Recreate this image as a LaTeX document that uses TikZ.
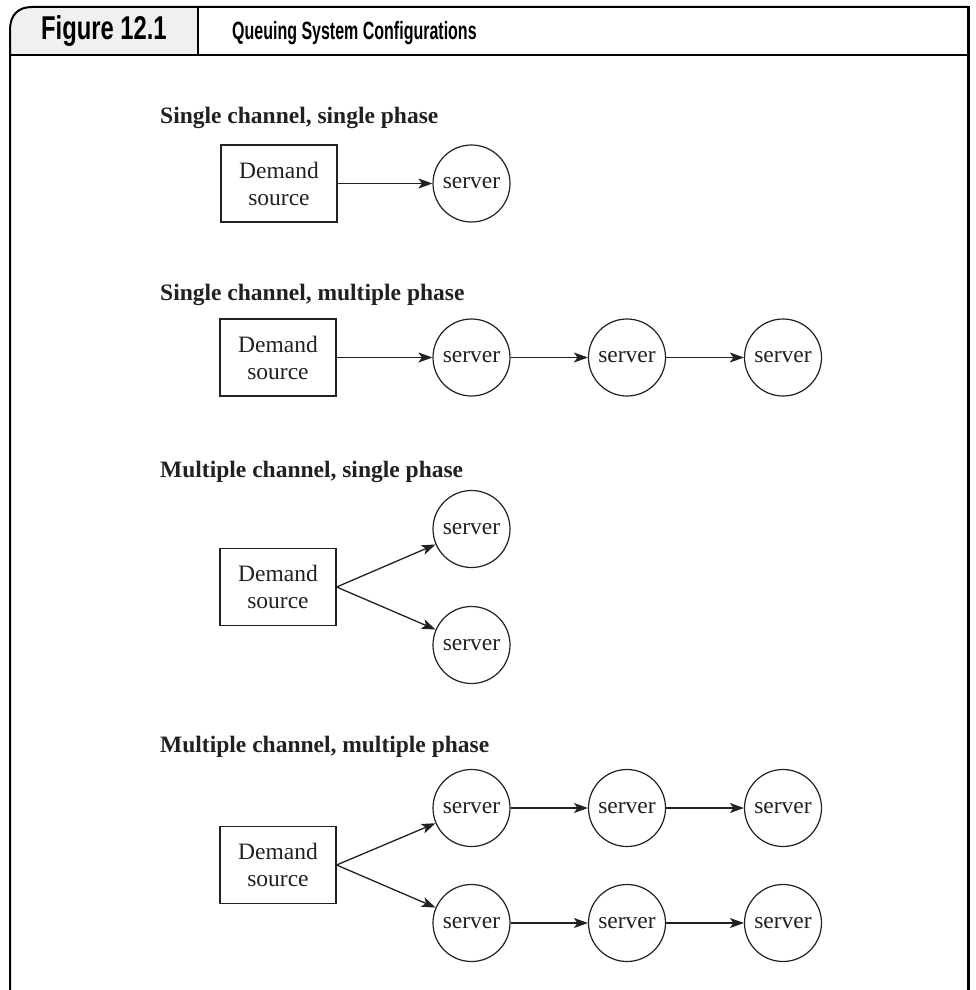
\documentclass[tikz,border=0pt]{standalone}
\usepackage{fontspec}
\setmainfont{Liberation Serif}
\newfontfamily\headfont[FakeStretch=0.72]{Liberation Sans}
\newfontfamily\titlefont[FakeStretch=0.64]{Liberation Sans}
\usetikzlibrary{arrows.meta}
\definecolor{ink}{rgb}{0.14, 0.12, 0.13}
\definecolor{tabgray}{rgb}{0.94, 0.94, 0.94}
\tikzset{src/.style = {draw=ink, line width=1.2pt, minimum width=116pt, minimum height=77pt,
                       inner sep=0pt, align=center, text=ink,
                       font=\fontsize{23.5}{27}\selectfont}}
\tikzset{srv/.style = {draw=ink, circle, line width=1.2pt, minimum size=77pt, inner sep=0pt,
                       text=ink, font=\fontsize{23.5}{27}\selectfont}}
\tikzset{flow/.style = {draw=ink, line width=1.3pt,
                        -{Stealth[length=14pt, width=10pt, inset=3.5pt]}}}
\tikzset{caption/.style = {anchor=base west, inner sep=0pt, text=ink,
                           font=\bfseries\fontsize{23.5}{27}\selectfont}}
\begin{document}
\begin{tikzpicture}[x=1pt, y=-1pt]
          \useasboundingbox (0, 0) rectangle (975, 990);

          % title tab
          \fill [tabgray] (10, 55) -- (10, 30) .. controls (10, 15) and (18, 7) .. (32, 7)
                -- (198, 7) -- (198, 55) -- cycle;
          \draw [line width=2pt] (10, 990) -- (10, 30) .. controls (10, 15) and (18, 7) .. (32, 7)
                -- (968, 7);
          \draw [line width=3pt] (968, 6) -- (968, 990);
          \draw [line width=1.5pt] (10, 55) -- (968, 55);
          \draw [line width=2pt] (198, 7) -- (198, 55);
          \node [anchor=base west, inner sep=0pt] (fig) at (41, 40)
                {\headfont\bfseries\fontsize{33}{36}\selectfont Figure 12.1};
          \node [anchor=base west, inner sep=0pt] (title) at (232, 39.5)
                {\titlefont\bfseries\fontsize{25}{28}\selectfont Queuing System Configurations};

          % single channel, single phase
          \node [caption] (capA) at (160, 123) {Single channel, single phase};
          \node [src] (srcA) at (279, 183.5) {Demand\\source};
          \node [srv] (srvA) at (471.5, 183.5) {server};
          \draw [flow] (srcA) -- (srvA);

          % single channel, multiple phase
          \node [caption] (capB) at (160, 300) {Single channel, multiple phase};
          \node [src] (srcB) at (278, 357.5) {Demand\\source};
          \node [srv] (srvB1) at (471.5, 357.5) {server};
          \node [srv] (srvB2) at (627, 357.5) {server};
          \node [srv] (srvB3) at (783, 357.5) {server};
          \draw [flow] (srcB) -- (srvB1);
          \draw [flow] (srvB1) -- (srvB2);
          \draw [flow] (srvB2) -- (srvB3);

          % multiple channel, single phase
          \node [caption] (capC) at (160, 477) {Multiple channel, single phase};
          \node [src] (srcC) at (278, 587) {Demand\\source};
          \node [srv] (srvC1) at (471.5, 529) {server};
          \node [srv] (srvC2) at (471.5, 645) {server};
          \draw [flow] (srcC.east) -- (srvC1);
          \draw [flow] (srcC.east) -- (srvC2);

          % multiple channel, multiple phase
          \node [caption] (capD) at (160, 752) {Multiple channel, multiple phase};
          \node [src] (srcD) at (278, 865) {Demand\\source};
          \node [srv] (srvD1) at (471.5, 808) {server};
          \node [srv] (srvD2) at (627, 808) {server};
          \node [srv] (srvD3) at (783, 808) {server};
          \node [srv] (srvE1) at (471.5, 923) {server};
          \node [srv] (srvE2) at (627, 923) {server};
          \node [srv] (srvE3) at (783, 923) {server};
          \draw [flow] (srcD.east) -- (srvD1);
          \draw [flow] (srcD.east) -- (srvE1);
          \foreach \row in {D, E} {
            \draw [flow] (srv\row1) -- (srv\row2);
            \draw [flow] (srv\row2) -- (srv\row3);
          }
        \end{tikzpicture}
\end{document}
